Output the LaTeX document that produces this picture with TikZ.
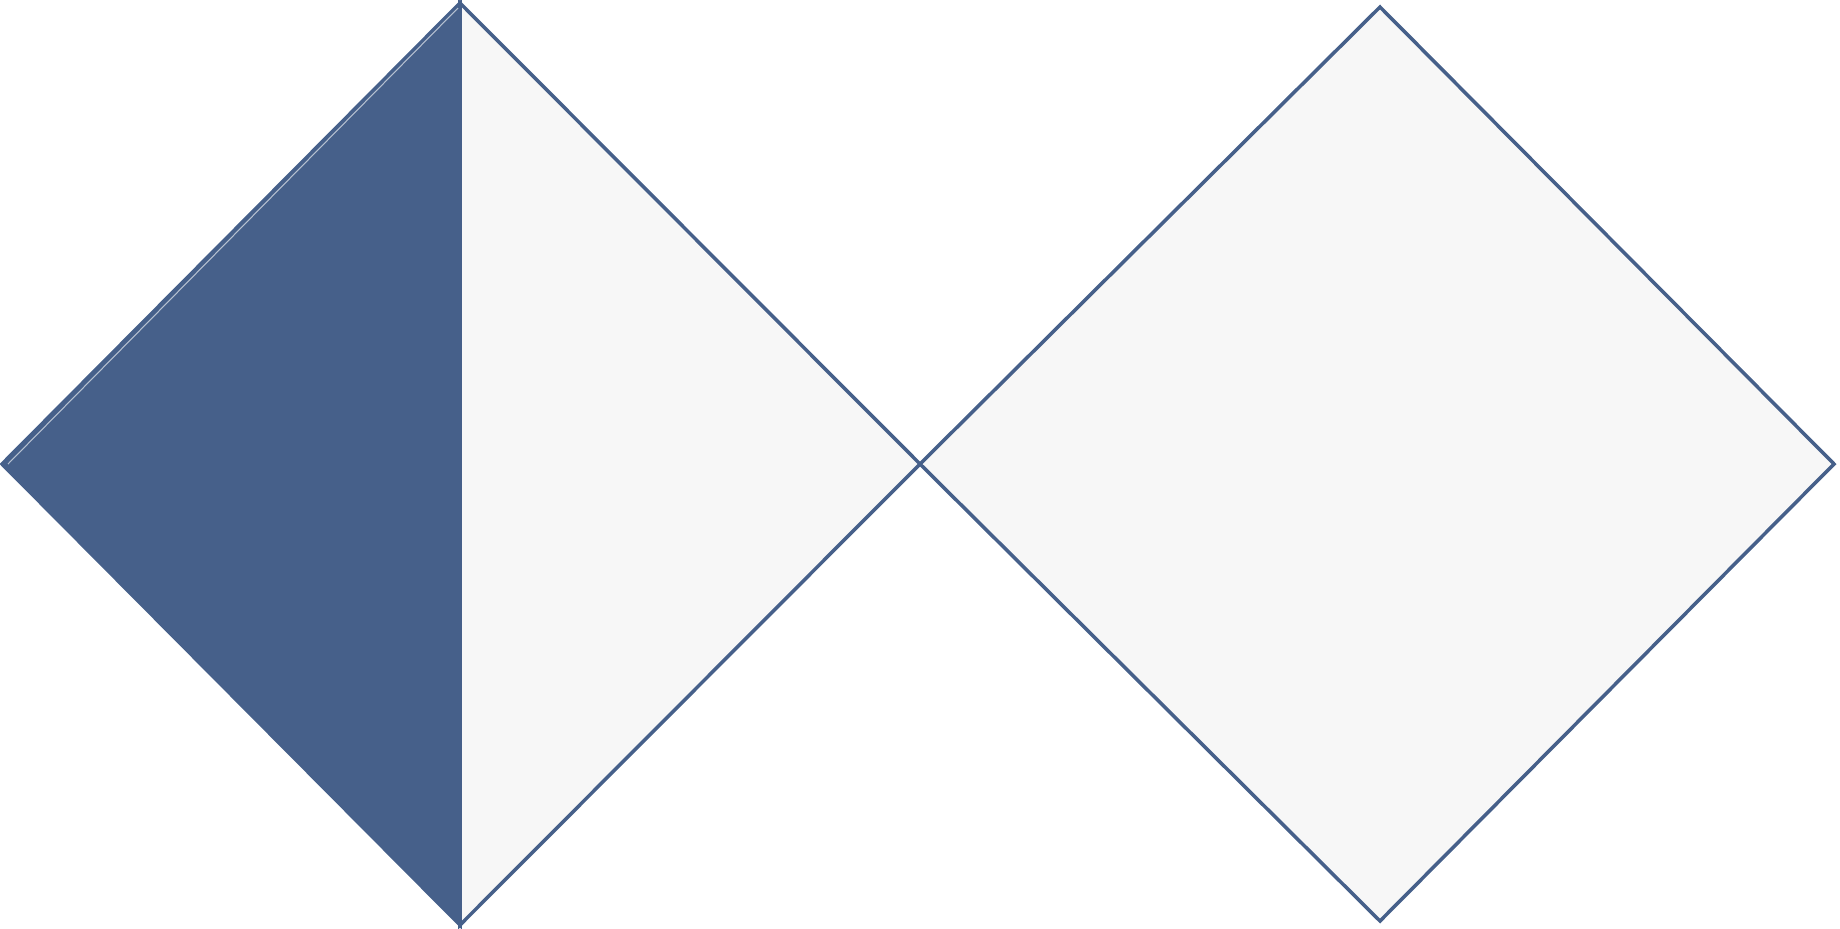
\documentclass[tikz,border=0pt]{standalone}
\usepackage[svgnames]{xcolor}
\definecolor{slate}{HTML}{46608A}
\definecolor{paper}{HTML}{F7F7F7}

\begin{document}
\begin{tikzpicture}[x=0.1mm,y=-0.1mm,edge/.style={draw=slate,line width=1pt,line join=miter}]
\useasboundingbox (0,0) rectangle (1840,928);
\coordinate (lt) at (460,3);
\coordinate (ll) at (2,464);
\coordinate (lb) at (460,925);
\coordinate (m) at (920,464);
\coordinate (rt) at (1380,7);
\coordinate (rr) at (1834,464);
\coordinate (rb) at (1380,921);
\fill[paper,edge] (lt) -- (m) -- (lb) -- cycle;
\fill[slate,edge] (lt) -- (ll) -- (lb) -- cycle;
\draw[white!60!slate,line width=0.3pt] (458,8) -- (8,464);
\fill[paper,edge] (m) -- (rt) -- (rr) -- (rb) -- cycle;
\end{tikzpicture}
\end{document}
